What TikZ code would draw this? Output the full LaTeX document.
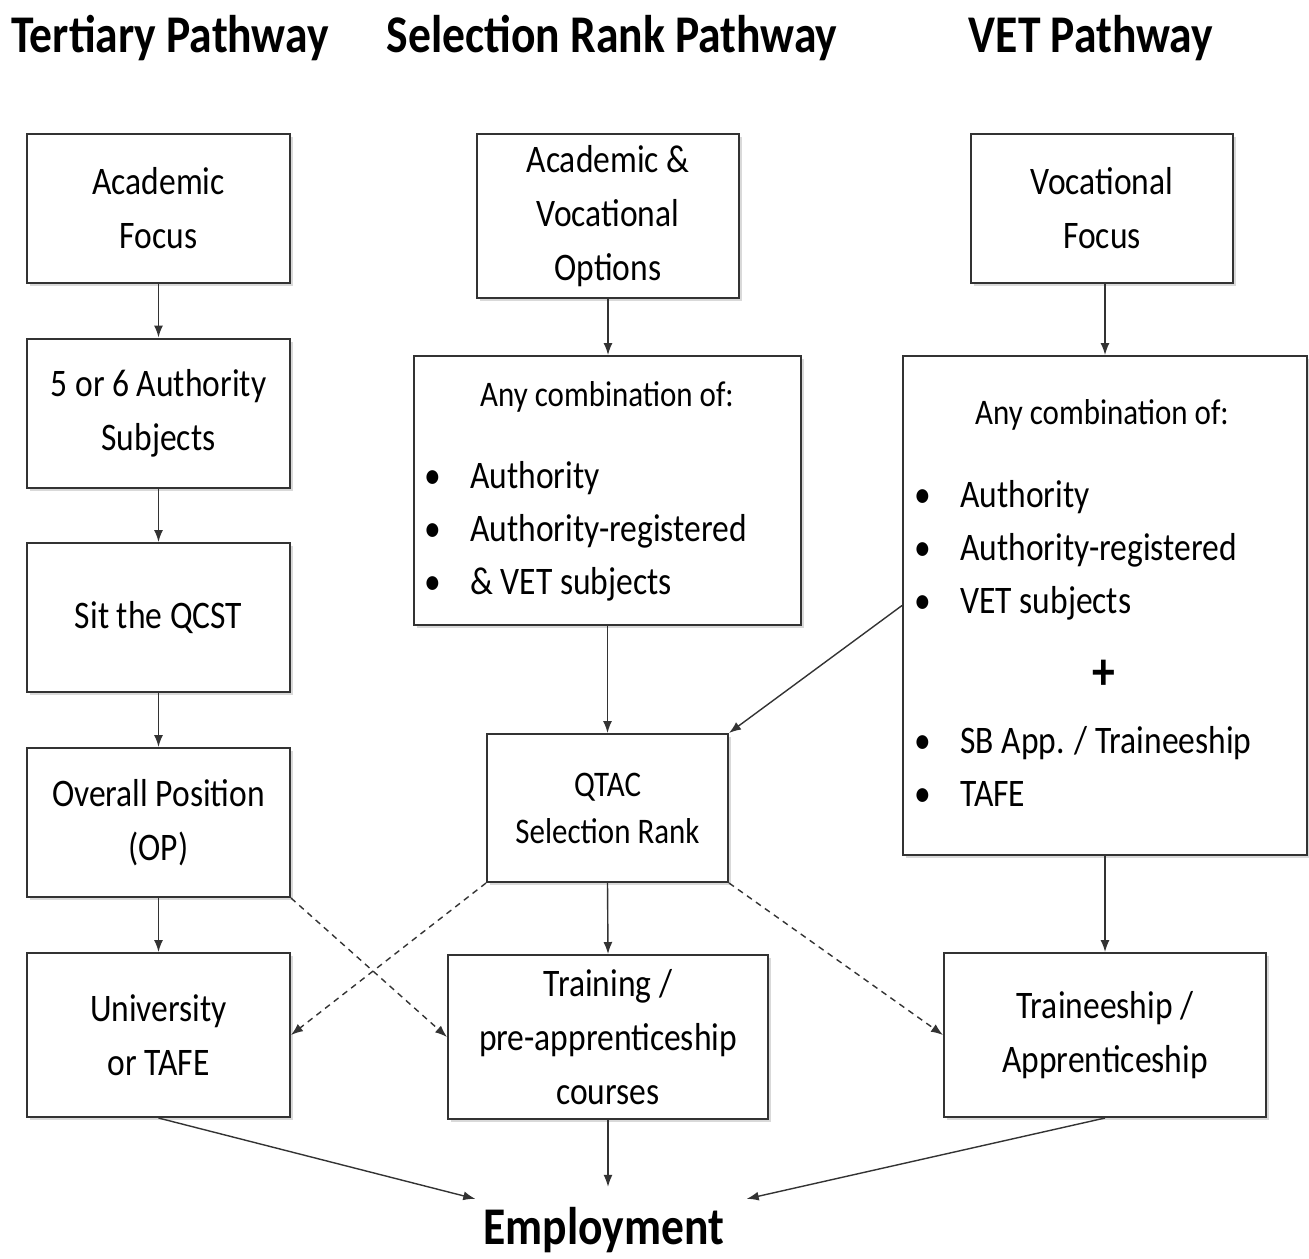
\documentclass[tikz,border=0pt]{standalone}
\usepackage{fontspec}
\setmainfont{Carlito}[FakeStretch=0.86]
\usetikzlibrary{arrows.meta,shadows}
\newcommand{\bodyfont}{\fontsize{19.5}{27}\selectfont}
\newcommand{\listfont}{\fontsize{19.5}{26.5}\selectfont}
\newcommand{\smallfont}{\fontsize{18}{23.5}\selectfont}
\newcommand{\headfont}{\bfseries\fontsize{26.5}{30}\selectfont}
\newcommand{\bul}{\makebox[23pt][l]{•}}

\begin{document}
\begin{tikzpicture}[x=0.5pt, y=-0.5pt,
	box/.style={draw=black!80, line width=1pt, fill=white, align=center,
		font=\bodyfont, inner sep=2pt,
		drop shadow={shadow xshift=1.5pt, shadow yshift=-1.5pt, opacity=0.3}},
	arr/.style={draw=black!80, line width=0.7pt, -{Latex[length=6pt,width=4.5pt]}},
	dasharr/.style={arr, dash pattern=on 3pt off 2.5pt},
	head/.style={font=\headfont, inner sep=0pt},
	plain/.style={align=left, inner sep=0pt}]
	\useasboundingbox (0,0) rectangle (1309,1258);
	% headings
	\node[head] (tp) at (170,38) {Tertiary Pathway};
	\node[head] (sp) at (612,38) {Selection Rank Pathway};
	\node[head] (vp) at (1091,38) {VET Pathway};
	% tertiary column
	\node[box, minimum width=131.5pt, minimum height=74.5pt] (af) at (158.5,208.5) {Academic\\Focus};
	\node[box, minimum width=131.5pt, minimum height=74.5pt] (auth) at (158.5,413) {5 or 6 Authority\\Subjects};
	\node[box, minimum width=131.5pt, minimum height=74.5pt] (qcst) at (158.5,617.5) {Sit the QCST};
	\node[box, minimum width=131.5pt, minimum height=74.5pt] (op) at (158.5,822.5) {Overall Position\\(OP)};
	\node[box, minimum width=131.5pt, minimum height=82pt] (uni) at (158.5,1035) {University\\or TAFE};
	% selection rank column
	\node[box, minimum width=131pt, minimum height=82pt] (avo) at (608,216) {Academic \&\\Vocational\\Options};
	\node[box, minimum width=193.5pt, minimum height=134.5pt] (srbox) at (607.5,490.5) {};
	\node[font=\smallfont, inner sep=0pt] (srhead) at (607,397) {Any combination of:};
	\node[plain, font=\listfont, anchor=west] (srlist) at (424,531)
		{\bul Authority\\\bul Authority-registered\\\bul \& VET subjects};
	\node[box, font=\smallfont, minimum width=120.5pt, minimum height=74pt] (qtac) at (607.5,808) {QTAC\\Selection Rank};
	\node[box, minimum width=160pt, minimum height=82pt] (train) at (608,1037) {Training /\\pre-apprenticeship\\courses};
	% vet column
	\node[box, minimum width=131pt, minimum height=74.5pt] (vf) at (1102,208.5) {Vocational\\Focus};
	\node[box, minimum width=202pt, minimum height=249.5pt] (vetbox) at (1105,605.5) {};
	\node[font=\smallfont, inner sep=0pt] (vethead) at (1102,415) {Any combination of:};
	\node[plain, font=\listfont, anchor=west] (vetlist) at (914,550)
		{\bul Authority\\\bul Authority-registered\\\bul VET subjects};
	\node[font=\headfont, inner sep=0pt] (plus) at (1104,675) {+};
	\node[plain, font=\listfont, anchor=west] (vetlist2) at (914,766.5)
		{\bul SB App. / Traineeship\\\bul TAFE};
	\node[box, minimum width=161pt, minimum height=82pt] (trainee) at (1105,1035) {Traineeship /\\Apprenticeship};
	% employment
	\node[head] (emp) at (604,1230) {Employment};
	% connectors
	\draw[arr] (af.south) -- (auth.north);
	\draw[arr] (auth.south) -- (qcst.north);
	\draw[arr] (qcst.south) -- (op.north);
	\draw[arr] (op.south) -- (uni.north);
	\draw[arr] (avo.south) -- (avo.south |- srbox.north);
	\draw[arr] (srbox.south) -- (qtac.north);
	\draw[arr] (qtac.south) -- (train.north);
	\draw[arr] (vetbox.north |- vf.south) -- (vetbox.north);
	\draw[arr] (vetbox.south) -- (trainee.north);
	\draw[arr] (vetbox.west) -- (qtac.north east);
	\draw[dasharr] (op.south east) -- (train.west);
	\draw[dasharr] (qtac.south west) -- (uni.east);
	\draw[dasharr] (qtac.south east) -- (trainee.west);
	\draw[arr] (uni.south) -- ([shift={(-8,-8)}]emp.north west);
	\draw[arr, shorten >=10pt] (train.south) -- (train.south |- emp.north);
	\draw[arr] (trainee.south) -- ([shift={(22,-8)}]emp.north east);
\end{tikzpicture}
\end{document}
